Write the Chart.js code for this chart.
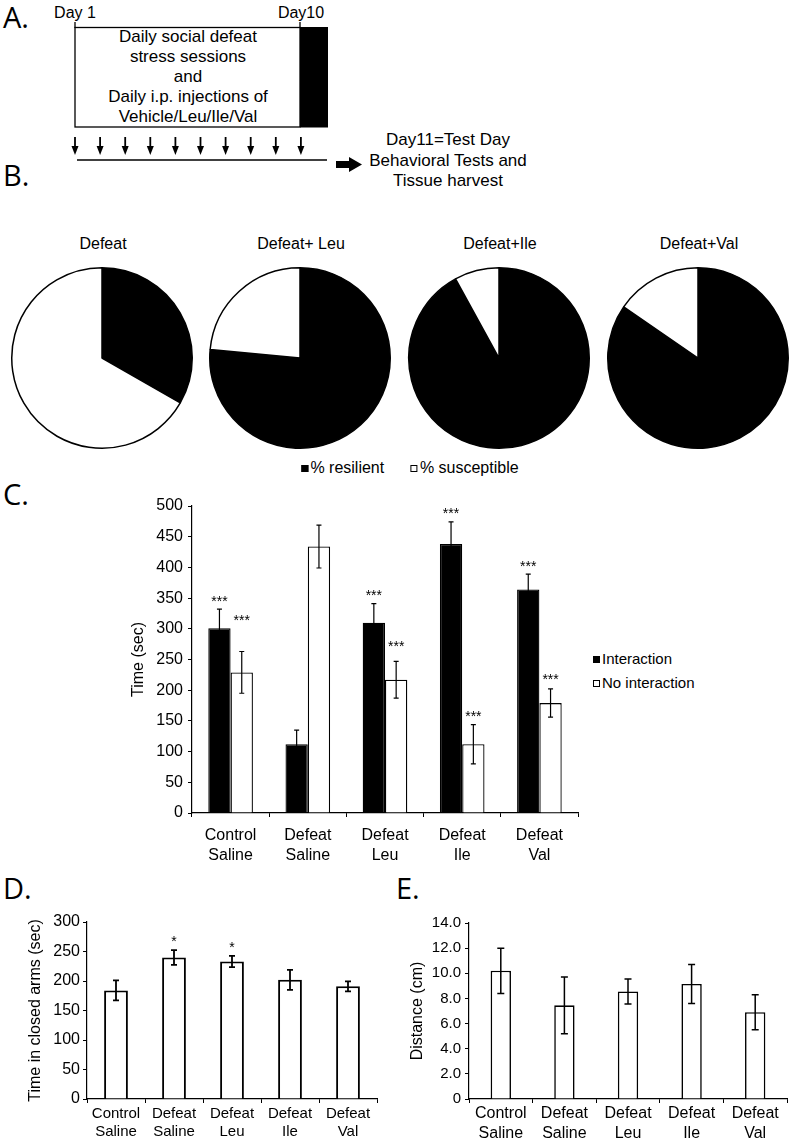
<!DOCTYPE html>
<html>
<head>
<meta charset="utf-8">
<script src="https://cdn.jsdelivr.net/npm/chart.js@4.4.0/dist/chart.umd.min.js"></script>
<style>
    html, body { margin: 0; padding: 0; background: #fff; }
    body { width: 790px; height: 1139px; position: relative; overflow: hidden; font-family: 'Liberation Sans', Arial, sans-serif; color: #000; }
    .abs { position: absolute; white-space: nowrap; }
    .c { transform: translate(-50%, -50%); text-align: center; }
    .letter { font-family: 'Open Sans', 'Noto Sans', sans-serif; font-size: 29px; line-height: 29px; }
    .sq { display: inline-block; width: 7px; height: 7px; box-sizing: border-box; border: 1.3px solid #000; margin-right: 2px; vertical-align: 1px; }
    canvas { position: absolute; }
</style>
</head>
<body>

<!-- Panel A: timeline schematic -->
<div class="abs letter" style="left:3px; top:2px;">A.</div>
<div class="abs letter" style="left:3px; top:160px;">B.</div>
<div class="abs letter" style="left:3px; top:479px;">C.</div>
<div class="abs letter" style="left:3px; top:873px;">D.</div>
<div class="abs letter" style="left:396px; top:873px;">E.</div>

<svg class="abs" style="left:0; top:0;" width="400" height="200">
    <line x1="75" y1="22" x2="75" y2="28" stroke="#000" stroke-width="1.3"/>
    <line x1="300" y1="22" x2="300" y2="28" stroke="#000" stroke-width="1.3"/>
    <rect x="75" y="27.5" width="225" height="99.5" fill="#fff" stroke="#000" stroke-width="1.3"/>
    <rect x="300" y="27" width="28" height="100.5" fill="#000"/>
    <g id="arrows"></g>
    <line x1="77" y1="160" x2="327" y2="160" stroke="#000" stroke-width="1.3"/>
    <polygon points="336,161 349,161 349,157 362,164.5 349,172 349,168 336,168" fill="#000"/>
</svg>
<div class="abs c" style="left:75px; top:13px; font-size:16px;">Day 1</div>
<div class="abs c" style="left:301px; top:13px; font-size:16px;">Day10</div>
<div class="abs c" style="left:188px; top:77px; font-size:17px; line-height:20px;">Daily social defeat<br>stress sessions<br>and<br>Daily i.p. injections of<br>Vehicle/Leu/Ile/Val</div>
<div class="abs c" style="left:448px; top:161px; font-size:17px; line-height:20.5px;">Day11=Test Day<br>Behavioral Tests and<br>Tissue harvest</div>

<!-- Panel B: pies -->
<div id="pie-titles"></div>
<canvas id="pie0" width="184" height="184"></canvas>
<canvas id="pie1" width="184" height="184"></canvas>
<canvas id="pie2" width="184" height="184"></canvas>
<canvas id="pie3" width="184" height="184"></canvas>
<div class="abs c" style="left:410px; top:468px; font-size:16px;">
    <span class="sq" style="background:#000;"></span>% resilient&nbsp;&nbsp;&nbsp;&nbsp;&nbsp;&nbsp;<span class="sq" style="background:#fff;"></span>% susceptible
</div>

<!-- Panel C -->
<canvas id="chartC" width="470" height="380" style="left:120px; top:490px;"></canvas>
<div class="abs" style="left:593px; top:647px; font-size:15px; line-height:24px;">
    <span class="sq" style="background:#000;"></span>Interaction<br>
    <span class="sq" style="background:#fff;"></span>No interaction
</div>

<!-- Panels D and E -->
<canvas id="chartD" width="390" height="234" style="left:0px; top:905px;"></canvas>
<canvas id="chartE" width="400" height="234" style="left:390px; top:905px;"></canvas>

<script>
// ---- data ----
const pieTitles = ['Defeat', 'Defeat+ Leu', 'Defeat+Ile', 'Defeat+Val'];
const resilientPct = [33.3, 76.5, 92.0, 84.6];
const susceptiblePct = [66.7, 23.5, 8.0, 15.4];

const groups = [['Control', 'Saline'], ['Defeat', 'Saline'], ['Defeat', 'Leu'], ['Defeat', 'Ile'], ['Defeat', 'Val']];

// C: social interaction
const interaction = [301, 112, 310, 438, 364];
const interactionErr = [31, 23, 31, 36, 25];
const interactionStars = [350, null, 360, 494, 407];
const noInteraction = [229, 434, 217, 112, 179];
const noInteractionErr = [34, 35, 30, 32, 23];
const noInteractionStars = [319, null, 277, 163, 224];
const ticksC = [0, 500, 50];

// D: elevated plus maze
const closedArms = [184, 240, 233, 202, 191];
const closedArmsErr = [17, 12.5, 9.5, 17, 8.5];
const closedArmsStars = [null, 273, 263, null, null];
const ticksD = [0, 300, 50];

// E: locomotion
const distance = [10.2, 7.45, 8.55, 9.15, 6.9];
const distanceErr = [1.8, 2.25, 1.0, 1.55, 1.4];
const ticksE = [0, 14, 2];

const pieCentersX = [102, 300, 499, 698];
const pieCenterY = 358;

Chart.defaults.font.family = "'Liberation Sans', Arial, sans-serif";
Chart.defaults.color = '#000';
Chart.defaults.animation = false;

// draw the injection arrows
const arrowG = document.getElementById('arrows');
let arrowSvg = '';
for (let i = 0; i < 10; i++) {
    const x = 75 + i * 25.1;
    arrowSvg += `<line x1="${x}" y1="137" x2="${x}" y2="148" stroke="#000" stroke-width="1.8"/>`;
    arrowSvg += `<polygon points="${x - 3.5},146 ${x + 3.5},146 ${x},155" fill="#000"/>`;
}
arrowG.innerHTML = arrowSvg;

// ---- pies ----
let titlesHtml = '';
pieTitles.forEach((t, i) => {
    titlesHtml += `<div class="abs c" style="left:${pieCentersX[i] + 1}px; top:244px; font-size:16px;">${t}</div>`;
    const cv = document.getElementById('pie' + i);
    cv.style.left = (pieCentersX[i] - 92) + 'px';
    cv.style.top = (pieCenterY - 92) + 'px';
    new Chart(cv, {
        type: 'pie',
        data: {
            labels: ['% resilient', '% susceptible'],
            datasets: [{
                data: [resilientPct[i], susceptiblePct[i]],
                backgroundColor: ['#000', '#fff'],
                borderColor: '#000',
                borderWidth: 1.5,
            }],
        },
        options: {
            responsive: false,
            layout: { padding: 1 },
            plugins: { legend: { display: false }, tooltip: { enabled: false } },
        },
    });
});
document.getElementById('pie-titles').innerHTML = titlesHtml;

// ---- error bars and significance stars ----
const errorBarPlugin = {
    id: 'errorBars',
    afterDatasetsDraw(chart) {
        const ctx = chart.ctx;
        const y = chart.scales.y;
        chart.data.datasets.forEach((ds, di) => {
            const meta = chart.getDatasetMeta(di);
            const cap = ds.capHalf || 3;
            meta.data.forEach((bar, i) => {
                const v = ds.data[i];
                const e = ds.errors ? ds.errors[i] : 0;
                ctx.save();
                ctx.strokeStyle = '#000';
                ctx.lineWidth = ds.errWidth || 1.2;
                const yTop = y.getPixelForValue(v + e);
                const yBot = y.getPixelForValue(v - e);
                ctx.beginPath();
                ctx.moveTo(bar.x, yTop); ctx.lineTo(bar.x, yBot);
                ctx.moveTo(bar.x - cap, yTop); ctx.lineTo(bar.x + cap, yTop);
                ctx.moveTo(bar.x - cap, yBot); ctx.lineTo(bar.x + cap, yBot);
                ctx.stroke();
                if (ds.stars && ds.stars[i] != null) {
                    const fs = ds.starSize || 14;
                    ctx.fillStyle = '#000';
                    ctx.font = `${fs}px 'Liberation Sans', Arial, sans-serif`;
                    ctx.textAlign = 'center';
                    ctx.textBaseline = 'alphabetic';
                    ctx.fillText(ds.starText || '***', bar.x, y.getPixelForValue(ds.stars[i]) + fs * 0.58);
                }
                ctx.restore();
            });
        });
    },
};

function barOptions(cfg) {
    return {
        responsive: false,
        layout: { padding: { top: cfg.padTop, right: cfg.padRight, left: 0, bottom: 0 } },
        plugins: { legend: { display: false }, tooltip: { enabled: false } },
        scales: {
            x: {
                afterFit: (s) => { s.height = cfg.xHeight; },
                grid: { drawOnChartArea: false, drawTicks: true, tickLength: 4, color: '#000', offset: true },
                border: { display: true, color: '#000', width: 1.2 },
                ticks: { color: '#000', font: { size: cfg.xFont, lineHeight: 1.25 }, padding: cfg.xPad, maxRotation: 0, autoSkip: false },
            },
            y: {
                min: cfg.ticks[0], max: cfg.ticks[1],
                afterFit: (s) => { s.width = cfg.yWidth; },
                grid: { drawOnChartArea: false, drawTicks: true, tickLength: 4, color: '#000' },
                border: { display: true, color: '#000', width: 1.2 },
                ticks: { stepSize: cfg.ticks[2], color: '#000', font: { size: cfg.yFont }, padding: cfg.yPad, callback: cfg.tickFmt },
                title: { display: true, text: cfg.title, color: '#000', font: { size: 16 }, padding: { top: cfg.titlePad, bottom: 0 } },
            },
        },
    };
}

new Chart(document.getElementById('chartC'), {
    type: 'bar',
    data: {
        labels: groups,
        datasets: [
            {
                label: 'Interaction', data: interaction, errors: interactionErr, stars: interactionStars,
                backgroundColor: '#000', borderColor: '#000', borderWidth: 1.3,
                barPercentage: 1.0, categoryPercentage: 0.578, capHalf: 2.5, errWidth: 1.2,
            },
            {
                label: 'No interaction', data: noInteraction, errors: noInteractionErr, stars: noInteractionStars,
                backgroundColor: '#fff', borderColor: '#000', borderWidth: 1.3,
                barPercentage: 1.0, categoryPercentage: 0.578, capHalf: 2.5, errWidth: 1.2,
            },
        ],
    },
    options: barOptions({ padTop: 16, padRight: 12, xHeight: 57, xFont: 16, xPad: 9, yWidth: 72, yFont: 16, yPad: 5,
        ticks: ticksC, title: 'Time (sec)', titlePad: 9 }),
    plugins: [errorBarPlugin],
});

new Chart(document.getElementById('chartD'), {
    type: 'bar',
    data: {
        labels: groups,
        datasets: [{
            label: 'Time in closed arms', data: closedArms, errors: closedArmsErr, stars: closedArmsStars,
            starText: '*', starSize: 14,
            backgroundColor: '#fff', borderColor: '#000', borderWidth: 2,
            barPercentage: 0.41, categoryPercentage: 1.0, capHalf: 3, errWidth: 1.8,
        }],
    },
    options: barOptions({ padTop: 17, padRight: 13, xHeight: 40, xFont: 15, xPad: 1, yWidth: 87, yFont: 16, yPad: 3,
        ticks: ticksD, title: 'Time in closed arms (sec)', titlePad: 26 }),
    plugins: [errorBarPlugin],
});

new Chart(document.getElementById('chartE'), {
    type: 'bar',
    data: {
        labels: groups,
        datasets: [{
            label: 'Distance', data: distance, errors: distanceErr,
            backgroundColor: '#fff', borderColor: '#000', borderWidth: 1.6,
            barPercentage: 0.32, categoryPercentage: 1.0, capHalf: 3.5, errWidth: 1.5,
        }],
    },
    options: barOptions({ padTop: 18, padRight: 3, xHeight: 40, xFont: 16, xPad: 1, yWidth: 79, yFont: 15, yPad: 4,
        ticks: ticksE, title: 'Distance (cm)', titlePad: 18,
        tickFmt: (v) => v === 0 ? '0' : v.toFixed(1) }),
    plugins: [errorBarPlugin],
});
</script>
</body>
</html>
